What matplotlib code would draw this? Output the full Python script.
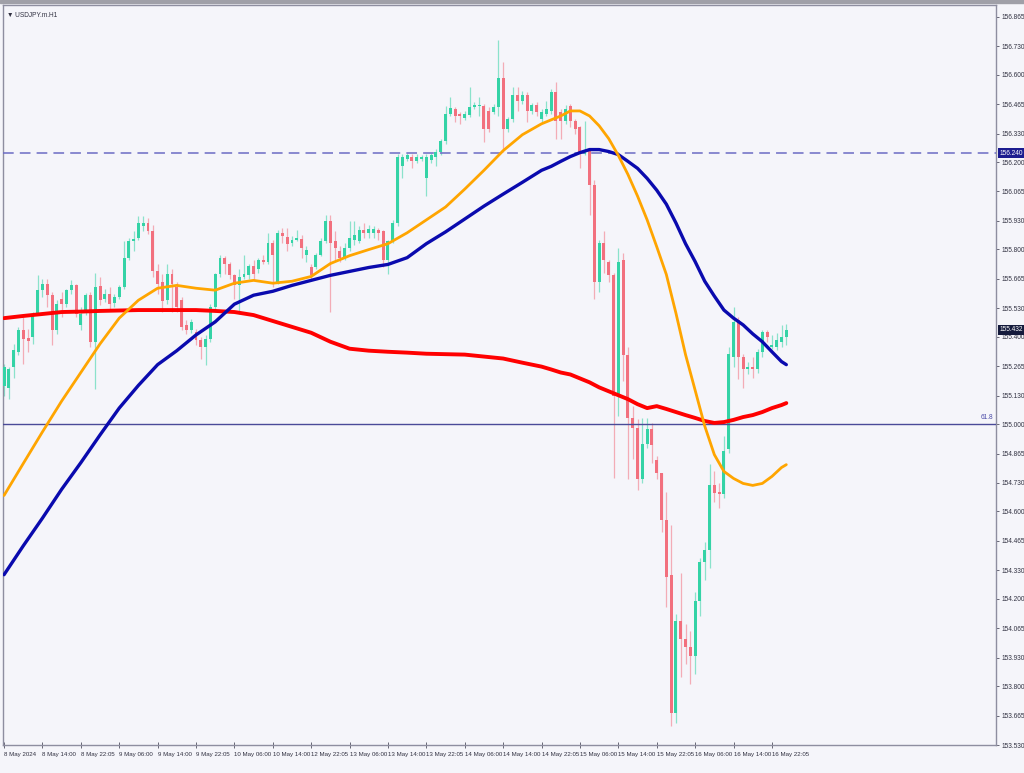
import matplotlib
matplotlib.use("Agg")
import matplotlib.pyplot as plt
import matplotlib.transforms as mtransforms
import numpy as np

plt.rcParams["font.family"] = ["Liberation Sans", "DejaVu Sans"]

# ---------------------------------------------------------------------------
# USDJPY H1 candles
# ---------------------------------------------------------------------------
opens = [
    155.173, 155.164, 155.263, 155.331, 155.431, 155.395, 155.399, 155.504, 155.613, 155.640,
    155.590, 155.431, 155.572, 155.549, 155.613, 155.635, 155.454, 155.513, 155.590, 155.377,
    155.631, 155.572, 155.595, 155.554, 155.581, 155.626, 155.762, 155.840, 155.853, 155.908,
    155.921, 155.885, 155.703, 155.649, 155.567, 155.685, 155.626, 155.567, 155.454, 155.431,
    155.422, 155.386, 155.354, 155.390, 155.536, 155.685, 155.762, 155.731, 155.681, 155.635,
    155.672, 155.681, 155.726, 155.708, 155.749, 155.740, 155.831, 155.649, 155.876, 155.858,
    155.831, 155.844, 155.849, 155.776, 155.717, 155.717, 155.776, 155.840, 155.930, 155.840,
    155.794, 155.762, 155.808, 155.844, 155.840, 155.889, 155.876, 155.876, 155.889, 155.885,
    155.753, 155.840, 155.921, 156.180, 156.216, 156.221, 156.203, 156.216, 156.125, 156.207,
    156.225, 156.248, 156.298, 156.420, 156.443, 156.420, 156.402, 156.416, 156.452, 156.457,
    156.457, 156.434, 156.429, 156.452, 156.584, 156.352, 156.398, 156.506, 156.479, 156.506,
    156.434, 156.461, 156.398, 156.420, 156.434, 156.520, 156.429, 156.389, 156.457, 156.389,
    156.361, 156.239, 156.252, 156.094, 155.649, 155.831, 155.740, 155.681, 155.127, 155.749,
    155.318, 155.028, 154.982, 154.750, 154.909, 154.977, 154.837, 154.778, 154.560, 154.310,
    153.675, 154.097, 154.016, 153.979, 153.938, 154.188, 154.370, 154.424, 154.719, 154.687,
    154.678, 154.887, 155.309, 155.477, 155.309, 155.254, 155.263, 155.250, 155.331, 155.422,
    155.354, 155.354, 155.377, 155.399,
]
highs = [
    155.277, 155.263, 155.367, 155.445, 155.490, 155.436, 155.513, 155.681, 155.663, 155.663,
    155.604, 155.567, 155.604, 155.617, 155.658, 155.640, 155.536, 155.599, 155.604, 155.694,
    155.672, 155.617, 155.626, 155.595, 155.635, 155.840, 155.853, 155.885, 155.953, 155.953,
    155.944, 155.912, 155.731, 155.685, 155.731, 155.708, 155.649, 155.581, 155.477, 155.481,
    155.436, 155.399, 155.408, 155.549, 155.694, 155.776, 155.771, 155.740, 155.685, 155.708,
    155.776, 155.735, 155.749, 155.762, 155.776, 155.876, 155.844, 155.889, 155.898, 155.898,
    155.862, 155.889, 155.867, 155.817, 155.731, 155.785, 155.853, 155.958, 155.958, 155.885,
    155.817, 155.831, 155.930, 155.930, 155.908, 155.921, 155.912, 155.908, 155.898, 155.889,
    155.844, 155.935, 156.239, 156.239, 156.243, 156.239, 156.239, 156.234, 156.239, 156.243,
    156.261, 156.307, 156.457, 156.497, 156.452, 156.429, 156.434, 156.543, 156.475, 156.497,
    156.466, 156.452, 156.466, 156.761, 156.656, 156.407, 156.543, 156.543, 156.525, 156.520,
    156.470, 156.475, 156.443, 156.479, 156.534, 156.565, 156.443, 156.461, 156.466, 156.398,
    156.366, 156.389, 156.261, 156.116, 155.844, 155.885, 155.753, 155.694, 155.808, 155.785,
    155.354, 155.082, 155.023, 155.028, 155.028, 155.005, 154.855, 154.778, 154.687, 154.537,
    154.129, 154.320, 154.084, 154.052, 154.233, 154.388, 154.461, 154.819, 154.787, 154.728,
    154.946, 155.354, 155.536, 155.490, 155.322, 155.286, 155.309, 155.345, 155.431, 155.431,
    155.408, 155.417, 155.454, 155.458,
]
lows = [
    155.127, 155.113, 155.209, 155.318, 155.277, 155.331, 155.367, 155.499, 155.581, 155.536,
    155.363, 155.413, 155.490, 155.536, 155.595, 155.490, 155.431, 155.499, 155.354, 155.159,
    155.545, 155.558, 155.527, 155.536, 155.572, 155.617, 155.753, 155.794, 155.844, 155.885,
    155.871, 155.672, 155.595, 155.513, 155.549, 155.513, 155.513, 155.431, 155.413, 155.418,
    155.363, 155.300, 155.272, 155.377, 155.513, 155.672, 155.685, 155.663, 155.572, 155.504,
    155.663, 155.663, 155.658, 155.694, 155.731, 155.731, 155.626, 155.640, 155.831, 155.794,
    155.817, 155.840, 155.762, 155.740, 155.663, 155.708, 155.771, 155.831, 155.513, 155.749,
    155.740, 155.753, 155.794, 155.821, 155.831, 155.853, 155.853, 155.853, 155.844, 155.717,
    155.685, 155.831, 155.908, 156.125, 156.203, 156.171, 156.194, 156.203, 156.044, 156.194,
    156.184, 156.234, 156.284, 156.411, 156.384, 156.375, 156.393, 156.407, 156.443, 156.411,
    156.293, 156.339, 156.420, 156.411, 156.248, 156.339, 156.384, 156.434, 156.466, 156.384,
    156.420, 156.411, 156.384, 156.411, 156.420, 156.307, 156.307, 156.375, 156.361, 156.330,
    156.171, 156.230, 155.958, 155.572, 155.604, 155.694, 155.649, 154.755, 155.037, 155.195,
    154.750, 154.841, 154.696, 154.732, 154.891, 154.823, 154.750, 154.506, 154.161, 153.616,
    153.630, 153.843, 153.902, 153.811, 153.857, 154.120, 154.288, 154.342, 154.642, 154.615,
    154.660, 154.869, 155.263, 155.205, 155.164, 155.227, 155.209, 155.236, 155.309, 155.377,
    155.345, 155.340, 155.354, 155.363,
]
closes = [
    155.263, 155.254, 155.340, 155.431, 155.390, 155.381, 155.499, 155.613, 155.640, 155.590,
    155.431, 155.549, 155.549, 155.613, 155.635, 155.504, 155.504, 155.590, 155.377, 155.626,
    155.567, 155.595, 155.549, 155.581, 155.626, 155.762, 155.840, 155.849, 155.921, 155.921,
    155.885, 155.703, 155.640, 155.563, 155.685, 155.640, 155.536, 155.445, 155.431, 155.468,
    155.386, 155.354, 155.390, 155.536, 155.685, 155.762, 155.731, 155.681, 155.635, 155.672,
    155.685, 155.726, 155.685, 155.749, 155.740, 155.831, 155.776, 155.876, 155.862, 155.826,
    155.844, 155.853, 155.808, 155.799, 155.681, 155.776, 155.840, 155.930, 155.831, 155.808,
    155.762, 155.808, 155.853, 155.867, 155.889, 155.876, 155.894, 155.894, 155.876, 155.753,
    155.840, 155.921, 156.225, 156.225, 156.230, 156.203, 156.225, 156.225, 156.225, 156.230,
    156.248, 156.298, 156.420, 156.447, 156.411, 156.411, 156.420, 156.452, 156.461, 156.461,
    156.352, 156.352, 156.452, 156.584, 156.352, 156.398, 156.506, 156.479, 156.506, 156.434,
    156.461, 156.429, 156.429, 156.443, 156.520, 156.389, 156.389, 156.443, 156.389, 156.352,
    156.248, 156.252, 156.094, 155.649, 155.831, 155.749, 155.681, 155.127, 155.740, 155.318,
    155.028, 154.982, 154.750, 154.909, 154.977, 154.905, 154.778, 154.560, 154.301, 153.675,
    154.097, 154.016, 153.979, 153.938, 154.188, 154.370, 154.424, 154.719, 154.683, 154.678,
    154.878, 155.322, 155.468, 155.309, 155.254, 155.263, 155.250, 155.331, 155.422, 155.399,
    155.363, 155.386, 155.399, 155.432,
]

# moving averages, read at these bar positions
ma_idx = [0, 4, 8, 12, 16, 20, 24, 28, 32, 36, 40, 44, 48, 52, 56, 60, 64, 68, 72, 76,
          80, 84, 88, 92, 96, 100, 104, 108, 112,
          114, 116, 118, 120, 122, 124, 126, 128, 130, 132, 134, 136, 138, 140, 142, 144,
          146, 148, 150, 152, 154, 156, 158, 160, 162, 163]
ma_red = [155.485, 155.495, 155.504, 155.513, 155.515, 155.518, 155.520, 155.522, 155.522,
          155.522, 155.522, 155.518, 155.513, 155.499, 155.472, 155.445, 155.418, 155.377,
          155.345, 155.336, 155.331, 155.327, 155.322, 155.320, 155.318, 155.309, 155.300,
          155.281, 155.263,
          155.250, 155.236, 155.227, 155.209, 155.191, 155.168, 155.150, 155.132, 155.114,
          155.091, 155.073, 155.082, 155.069, 155.055, 155.041, 155.028, 155.014, 155.005,
          155.009, 155.019, 155.032, 155.041, 155.055, 155.073, 155.087, 155.096]
ma_orange = [154.673, 154.819, 154.964, 155.105, 155.236, 155.367, 155.485, 155.567, 155.622,
             155.635, 155.622, 155.613, 155.645, 155.658, 155.645, 155.654, 155.676, 155.735,
             155.771, 155.799, 155.826, 155.876, 155.935, 155.994, 156.076, 156.162, 156.252,
             156.325, 156.375,
             156.393, 156.411, 156.434, 156.434, 156.411, 156.366, 156.307, 156.230, 156.143,
             156.044, 155.935, 155.812, 155.685, 155.508, 155.318, 155.155, 154.991, 154.860,
             154.783, 154.751, 154.728, 154.719, 154.728, 154.760, 154.801, 154.814]
ma_blue = [154.310, 154.442, 154.569, 154.701, 154.823, 154.950, 155.073, 155.177, 155.272,
           155.336, 155.408, 155.468, 155.549, 155.590, 155.608, 155.635, 155.658, 155.681,
           155.699, 155.717, 155.731, 155.762, 155.826, 155.880, 155.939, 155.998, 156.053,
           156.107, 156.162,
           156.180, 156.203, 156.225, 156.243, 156.257, 156.257, 156.248, 156.234, 156.203,
           156.171, 156.125, 156.071, 156.007, 155.921, 155.826, 155.744, 155.654, 155.586,
           155.522, 155.485, 155.454, 155.413, 155.377, 155.331, 155.286, 155.272]

price_ticks = [156.865, 156.730, 156.600, 156.465, 156.330, 156.200, 156.065, 155.930,
               155.800, 155.665, 155.530, 155.400, 155.265, 155.130, 155.000, 154.865,
               154.730, 154.600, 154.465, 154.330, 154.200, 154.065, 153.930, 153.800,
               153.665, 153.530]
time_pos = list(range(0, 161, 8))
time_labels = ["8 May 2024", "8 May 14:00", "8 May 22:05", "9 May 06:00", "9 May 14:00",
               "9 May 22:05", "10 May 06:00", "10 May 14:00", "12 May 22:05", "13 May 06:00",
               "13 May 14:00", "13 May 22:05", "14 May 06:00", "14 May 14:00", "14 May 22:05",
               "15 May 06:00", "15 May 14:00", "15 May 22:05", "16 May 06:00", "16 May 14:00",
               "16 May 22:05"]

resistance = 156.240
fib_level = 155.000
last_price = 155.432

BG = "#F5F5FA"
BULL = "#34D3A6"
BEAR = "#F2707E"
GRID = "#8E8EA0"
FS = 4.7

fig = plt.figure(figsize=(10.24, 7.73), dpi=100, facecolor=BG)
ax = fig.add_axes([0.003, 0.0362, 0.9697, 0.9573], facecolor=BG)

o = np.array(opens); h = np.array(highs); l = np.array(lows); c = np.array(closes)
x = np.arange(len(o))
up = c >= o
colors = np.where(up, BULL, BEAR)

# wicks then bodies
ax.vlines(x, l, h, colors=colors, linewidth=0.9, alpha=0.55, zorder=2)
body_lo = np.minimum(o, c)
body_h = np.maximum(np.abs(c - o), 0.005)
ax.bar(x, body_h, bottom=body_lo, width=0.62, color=colors, linewidth=0, zorder=3)

# horizontal levels
ax.axhline(resistance, color="#6B6BC4", lw=1.1, ls=(0, (7, 4)), zorder=4)
ax.axhline(fib_level, color="#4A4A98", lw=1.0, zorder=4)

# moving averages
ax.plot(ma_idx, ma_red, color="#FF0000", lw=2.8, zorder=5,
        solid_capstyle="round", solid_joinstyle="round")
ax.plot(ma_idx, ma_blue, color="#0A0AAE", lw=2.4, zorder=6,
        solid_capstyle="round", solid_joinstyle="round")
ax.plot(ma_idx, ma_orange, color="#FFA500", lw=2.0, zorder=7,
        solid_capstyle="round", solid_joinstyle="round")

ax.set_xlim(-0.2, 206.7)
ax.set_ylim(153.562, 156.919)

# right price axis
ax.yaxis.tick_right()
ax.set_yticks(price_ticks)
ax.set_yticklabels([f"{p:.3f}" for p in price_ticks])
ax.tick_params(axis="y", labelsize=FS, labelcolor="#303040", length=2.5, width=0.6,
               color="#505060", pad=1.2)

# bottom time axis
ax.set_xticks(time_pos)
ax.set_xticklabels(time_labels, ha="left")
ax.tick_params(axis="x", labelsize=4.4, labelcolor="#303040", length=4, width=0.6,
               color="#505060", pad=3, direction="inout")

for side in ["left", "right", "top", "bottom"]:
    ax.spines[side].set_color(GRID)
    ax.spines[side].set_linewidth(1.0)

trans = mtransforms.blended_transform_factory(ax.transAxes, ax.transData)

# level labels
ax.text(0.9975, fib_level + 0.012, "61.8", transform=trans, ha="right", va="bottom",
        fontsize=FS, color="#4A4AA8")
ax.text(1.003, resistance, "156.240", transform=trans, ha="left", va="center",
        fontsize=FS, color="white",
        bbox=dict(boxstyle="square,pad=0.2", fc="#1C1C90", ec="none"), zorder=10,
        clip_on=False)
ax.text(1.003, last_price, "155.432", transform=trans, ha="left", va="center",
        fontsize=FS, color="white",
        bbox=dict(boxstyle="square,pad=0.2", fc="#141A3C", ec="none"), zorder=10,
        clip_on=False)

# chart title
ax.text(0.004, 0.991, "\u25bc USDJPY.m.H1", transform=ax.transAxes, ha="left", va="top",
        fontsize=FS, color="#303040", family=["Liberation Sans", "DejaVu Sans"])

# window frame
fig.patches.append(plt.Rectangle((0, 0.9965), 1, 0.0035, transform=fig.transFigure,
                                 color="#A0A0A8", zorder=0))

fig.savefig("out.png", dpi=100, facecolor=BG)
